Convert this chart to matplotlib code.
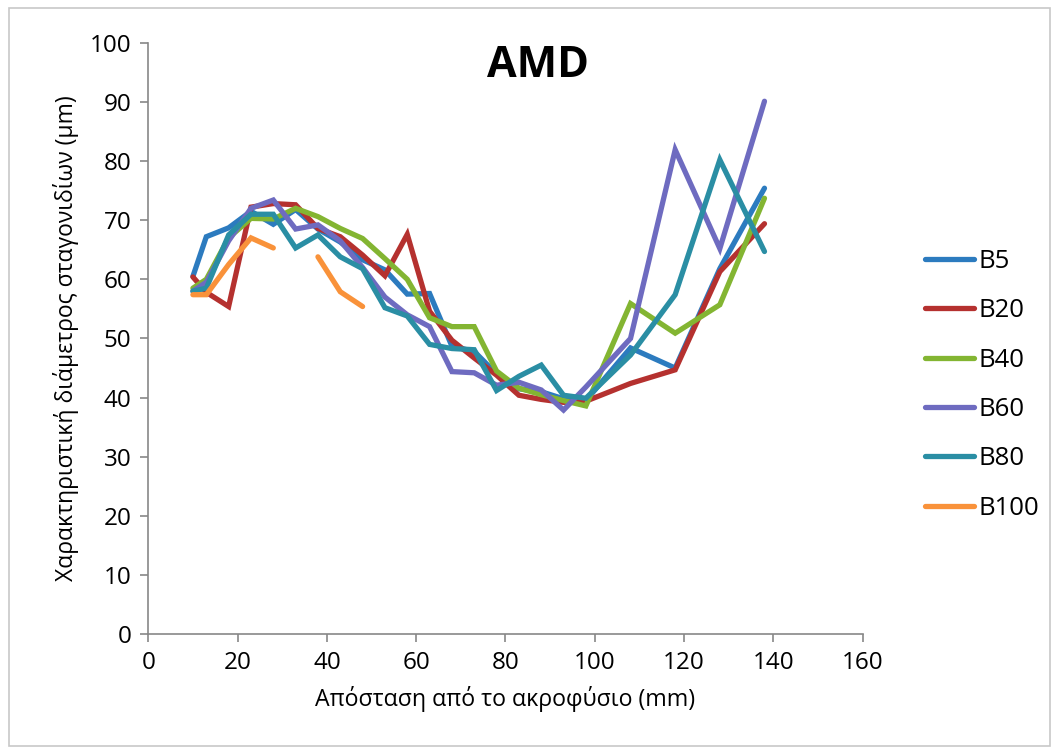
import numpy as np
import matplotlib
matplotlib.use("Agg")
import matplotlib.pyplot as plt
from matplotlib.patches import Rectangle

# Distance from the nozzle (mm)
distance = [10, 13, 18, 23, 28, 33, 38, 43, 48, 53, 58, 63, 68, 73, 78, 83, 88, 93, 98, 108, 118, 128, 138]

# Characteristic droplet diameter (um) per series
b5 = [60.5, 67.2, 68.7, 71.5, 69.3, 71.8, 68.5, 66.3, 63.3, 61.6, 57.5, 57.6,
      48.7, 47.8, 44.0, 41.5, 41.0, 39.8, 39.5, 48.4, 45.0, 61.8, 75.4]
b20 = [60.4, 57.8, 55.4, 72.2, 72.8, 72.6, 68.6, 67.2, 64.1, 60.6, 67.6, 54.6,
       49.7, 46.7, 43.8, 40.4, 39.7, 39.2, 39.4, 42.4, 44.7, 61.3, 69.4]
b40 = [58.5, 60.0, 67.0, 70.3, 70.2, 72.0, 70.6, 68.6, 66.9, 63.5, 60.0, 53.5,
       52.0, 52.0, 44.5, 41.6, 40.5, 39.5, 38.6, 55.9, 50.9, 55.7, 73.7]
b60 = [58.0, 59.5, 66.5, 72.0, 73.4, 68.5, 69.2, 66.5, 62.0, 57.0, 54.0, 52.0,
       44.4, 44.2, 42.1, 42.6, 41.3, 37.9, 41.8, 50.0, 81.9, 65.2, 90.1]
b80 = [58.0, 58.5, 67.5, 71.0, 71.0, 65.3, 67.5, 63.8, 61.8, 55.2, 53.8, 49.0,
       48.3, 48.1, 41.2, 43.6, 45.5, 40.4, 39.9, 47.2, 57.4, 80.2, 64.7]
b100 = [57.4, 57.4, 62.5, 67.0, 65.3, np.nan, 63.8, 57.9, 55.4, np.nan, np.nan, np.nan,
        np.nan, np.nan, np.nan, np.nan, np.nan, np.nan, np.nan, np.nan, np.nan, np.nan, np.nan]

series_names = ["B5", "B20", "B40", "B60", "B80", "B100"]
series_values = [b5, b20, b40, b60, b80, b100]
series_colors = ["#2C7BBF", "#B5312F", "#83B532", "#6E6BC0", "#2A8EA4", "#F9923A"]

x_ticks = [0, 20, 40, 60, 80, 100, 120, 140, 160]
y_ticks = [0, 10, 20, 30, 40, 50, 60, 70, 80, 90, 100]

plt.rcParams["font.family"] = ["Open Sans", "DejaVu Sans"]

fig = plt.figure(figsize=(10.53, 7.5), dpi=100)
fig.patch.set_facecolor("white")
fig.add_artist(Rectangle((0.009, 0.006), 0.988, 0.983, transform=fig.transFigure,
                         fill=False, edgecolor="#c8c8c8", linewidth=1.2))

ax = fig.add_axes([0.1408, 0.1543, 0.6785, 0.7888])

for name, vals, col in zip(series_names, series_values, series_colors):
    ax.plot(distance, vals, color=col, linewidth=3.8, label=name,
            solid_capstyle="round", solid_joinstyle="miter")

ax.set_xlim(0, 160)
ax.set_ylim(0, 100)
ax.set_xticks(x_ticks)
ax.set_yticks(y_ticks)
ax.tick_params(axis="both", labelsize=17.5, colors="#878787", labelcolor="black",
               length=6, width=1.2, direction="out", pad=6)
for side in ("top", "right"):
    ax.spines[side].set_visible(False)
for side in ("left", "bottom"):
    ax.spines[side].set_color("#878787")
    ax.spines[side].set_linewidth(1.2)

ax.set_xlabel("Απόσταση από το ακροφύσιο (mm)", fontsize=16.7, labelpad=8)
ax.set_ylabel("Χαρακτηριστική διάμετρος σταγονιδίων (μm)", fontsize=16.5, labelpad=8)
ax.text(0.545, 0.962, "AMD", transform=ax.transAxes, ha="center", va="center",
        fontsize=31, fontweight="bold")

ax.legend(loc="center left", bbox_to_anchor=(0.869, 0.487), bbox_transform=fig.transFigure,
          frameon=False, fontsize=18.5, handlelength=1.9, handletextpad=0.15,
          labelspacing=0.95, borderaxespad=0)

fig.savefig("out.png", dpi=100)
